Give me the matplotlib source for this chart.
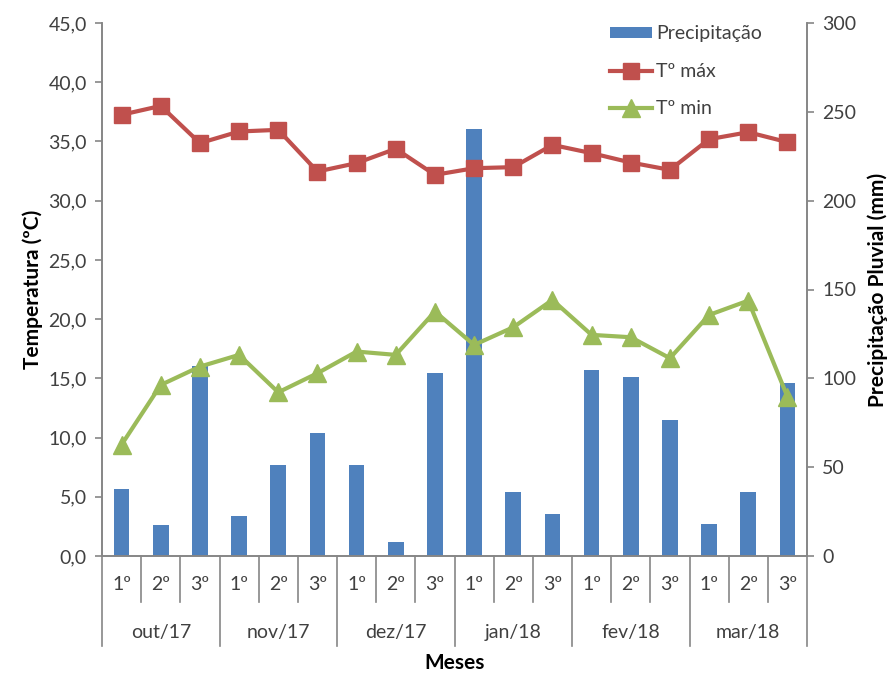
import numpy as np
import matplotlib
matplotlib.use("Agg")
import matplotlib.pyplot as plt
from matplotlib.patches import Patch
from matplotlib.lines import Line2D

plt.rcParams["font.family"] = ["Lato", "DejaVu Sans"]

# data
months = ["out/17", "nov/17", "dez/17", "jan/18", "fev/18", "mar/18"]
decendios = ["1º", "2º", "3º"]
precip = [37.5, 17.3, 107.0, 22.5, 51.2, 69.0, 51.2, 7.7, 102.8,
          240.6, 36.0, 23.4, 104.8, 100.5, 76.3, 17.8, 36.0, 97.1]
t_max = [37.25, 38.0, 34.86, 35.84, 35.98, 32.46, 33.17, 34.38, 32.18,
         32.74, 32.83, 34.71, 34.01, 33.22, 32.6, 35.19, 35.78, 34.94]
t_min = [9.4, 14.44, 15.99, 16.98, 13.82, 15.43, 17.26, 16.98, 20.64,
         17.82, 19.31, 21.62, 18.67, 18.47, 16.7, 20.35, 21.56, 13.45]

c_bar = "#4F81BD"
c_max = "#C0504D"
c_min = "#9BBB59"
c_axis = "#868686"
c_text = "#404040"
fs = 14
fs_lab = 15

x = np.arange(len(precip))

fig = plt.figure(figsize=(8.94, 6.73), dpi=100)
ax = fig.add_axes([102 / 894, 1 - 556 / 673, 705 / 894, 533 / 673])
ax2 = ax.twinx()

ax2.bar(x, precip, width=0.4, color=c_bar, zorder=2)
ax.plot(x, t_max, color=c_max, lw=3, marker="s", ms=12, zorder=3)
ax.plot(x, t_min, color=c_min, lw=3, marker="^", ms=13, zorder=3)

# lines above the bars
ax.set_zorder(ax2.get_zorder() + 1)
ax.patch.set_visible(False)

ax.set_xlim(-0.5, len(x) - 0.5)
ax.set_ylim(0, 45)
ax2.set_ylim(0, 300)
ax.set_yticks(np.arange(0, 46, 5))
ax.set_yticklabels([f"{v:.1f}".replace(".", ",") for v in np.arange(0, 46, 5)])
ax2.set_yticks(np.arange(0, 301, 50))
ax.set_xticks([])

for a in (ax, ax2):
    a.spines["top"].set_visible(False)
    for s in ("left", "right", "bottom"):
        a.spines[s].set_color(c_axis)
        a.spines[s].set_linewidth(1.2)
    a.tick_params(axis="y", colors=c_axis, length=5, width=1.2,
                  labelsize=fs, labelcolor=c_text, pad=6)

ax.set_ylabel("Temperatura (ºC)", fontsize=fs_lab, fontweight="bold", labelpad=4)
ax2.set_ylabel("Precipitação Pluvial (mm)", fontsize=fs_lab, fontweight="bold",
               labelpad=8)

# two-level category axis
trans = ax.get_xaxis_transform()
for k in range(len(x) + 1):
    low = -0.169 if k % 3 == 0 else -0.086
    ax.plot([k - 0.5, k - 0.5], [0, low], transform=trans, color=c_axis,
            lw=1.2, clip_on=False)
for i in x:
    ax.text(i, -0.054, decendios[i % 3], transform=trans, ha="center",
            va="center", fontsize=fs, color=c_text)
for m, name in enumerate(months):
    ax.text(3 * m + 1, -0.143, name, transform=trans, ha="center",
            va="center", fontsize=fs, color=c_text)
ax.text(0.5, -0.2, "Meses", transform=ax.transAxes, ha="center", va="center",
        fontsize=fs_lab, fontweight="bold")

handles = [
    Patch(facecolor=c_bar, label="Precipitação"),
    Line2D([], [], color=c_max, lw=3, marker="s", ms=12, label="Tº máx"),
    Line2D([], [], color=c_min, lw=3, marker="^", ms=13, label="Tº min"),
]
fig.legend(handles=handles, loc="upper left",
           bbox_to_anchor=(592 / 894, 1 - 8 / 673), frameon=False,
           fontsize=fs, labelspacing=1.05, handlelength=2.2,
           handleheight=0.5, handletextpad=0.2, labelcolor=c_text)

fig.savefig("out.png", dpi=100)
